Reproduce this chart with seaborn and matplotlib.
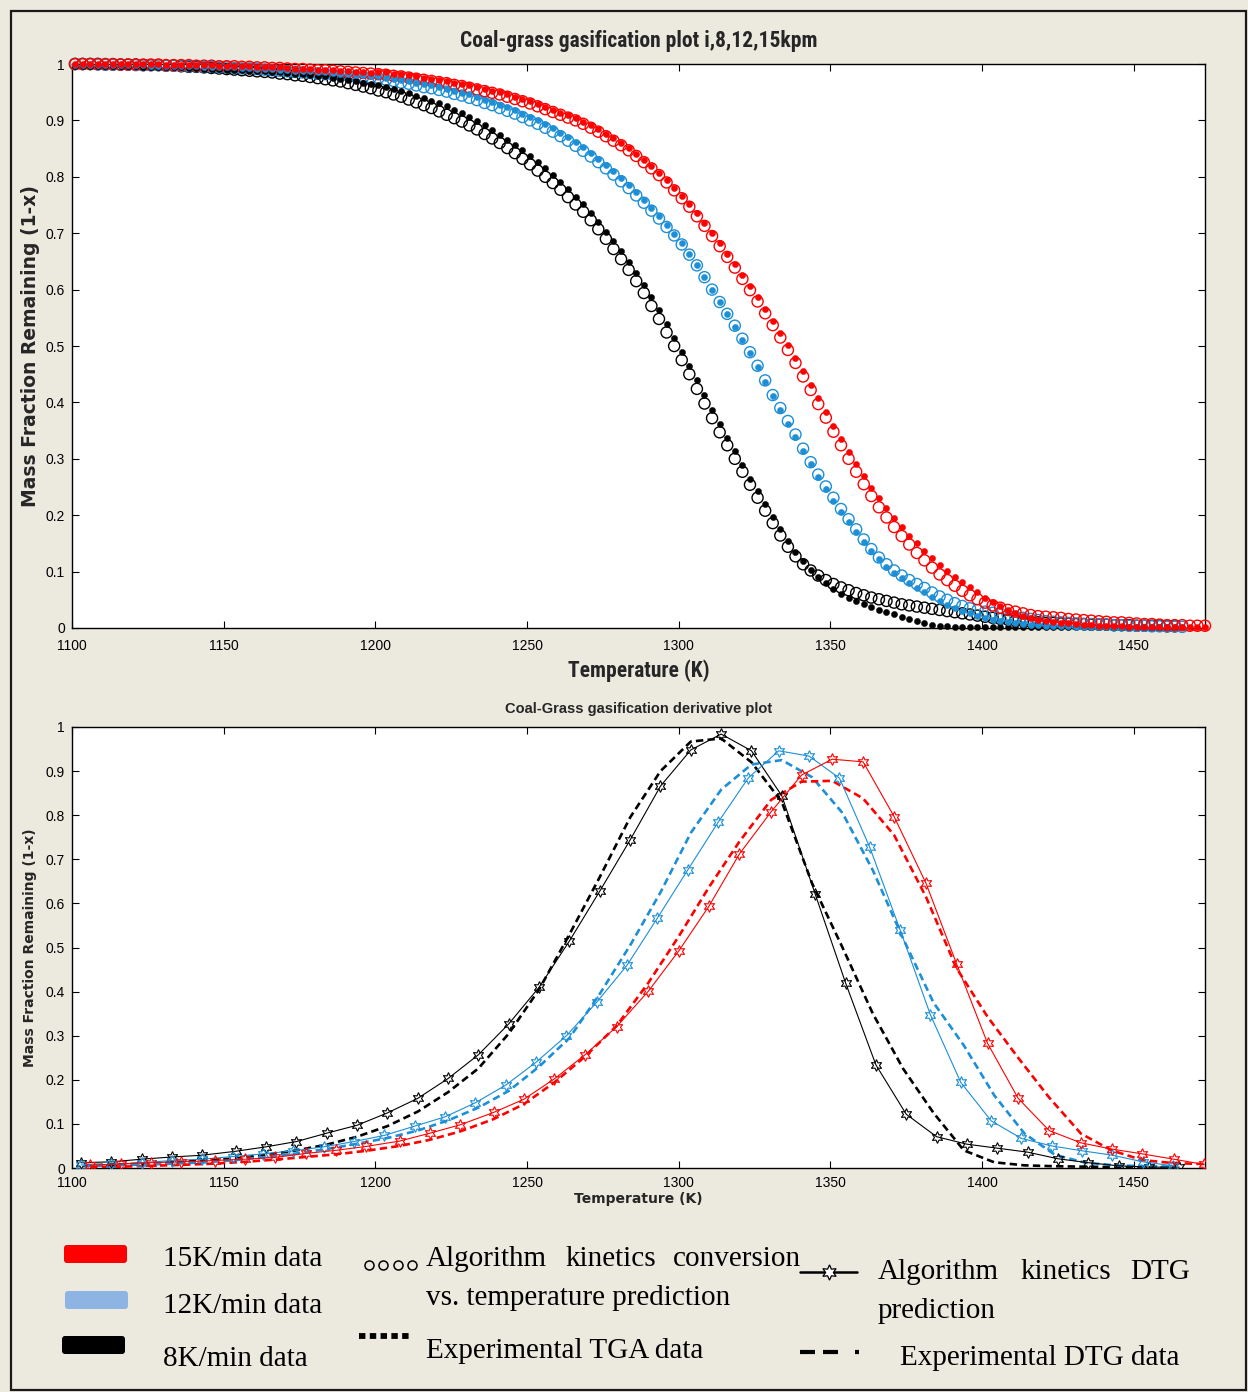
import numpy as np
import pandas as pd
import matplotlib
matplotlib.use("Agg")
import matplotlib.pyplot as plt
import seaborn as sns
from matplotlib import font_manager as fm
from matplotlib.patches import FancyBboxPatch, Rectangle
from matplotlib.ticker import FuncFormatter, MultipleLocator

# ------------------------------------------------------------------
# Conversion curves (1 - x), sampled every 2.5 K starting at 1101 K
# ------------------------------------------------------------------
temp_tga = np.arange(1101.0, 1474.0, 2.5)

alg_8 = [
    1.000, 1.000, 1.000, 1.000, 0.999, 0.999, 0.999, 0.999, 0.999, 0.998,
    0.998, 0.998, 0.997, 0.997, 0.996, 0.995, 0.995, 0.994, 0.993, 0.992,
    0.991, 0.990, 0.989, 0.988, 0.987, 0.986, 0.985, 0.983, 0.982, 0.980,
    0.979, 0.977, 0.975, 0.973, 0.971, 0.969, 0.966, 0.963, 0.960, 0.957,
    0.953, 0.950, 0.946, 0.942, 0.937, 0.932, 0.927, 0.922, 0.916, 0.910,
    0.904, 0.898, 0.891, 0.884, 0.876, 0.868, 0.860, 0.851, 0.842, 0.832,
    0.822, 0.811, 0.800, 0.789, 0.777, 0.764, 0.751, 0.738, 0.723, 0.707,
    0.690, 0.672, 0.654, 0.635, 0.615, 0.594, 0.571, 0.548, 0.524, 0.500,
    0.475, 0.450, 0.424, 0.398, 0.372, 0.347, 0.324, 0.300, 0.277, 0.254,
    0.231, 0.208, 0.186, 0.164, 0.144, 0.127, 0.113, 0.102, 0.093, 0.085,
    0.078, 0.072, 0.067, 0.062, 0.058, 0.054, 0.051, 0.048, 0.045, 0.042,
    0.040, 0.038, 0.036, 0.034, 0.032, 0.030, 0.028, 0.026, 0.024, 0.022,
    0.020, 0.018, 0.016, 0.015, 0.013, 0.012, 0.011, 0.010, 0.009, 0.009,
    0.008, 0.008, 0.007, 0.007, 0.006, 0.006, 0.006, 0.005, 0.005, 0.005,
    0.004, 0.004, 0.004, 0.004, 0.003, 0.003,
]
exp_8 = [
    0.997, 0.997, 0.997, 0.997, 0.996, 0.996, 0.996, 0.996, 0.996, 0.995,
    0.995, 0.995, 0.994, 0.994, 0.994, 0.993, 0.993, 0.992, 0.992, 0.991,
    0.990, 0.990, 0.989, 0.988, 0.988, 0.987, 0.986, 0.985, 0.984, 0.983,
    0.982, 0.981, 0.979, 0.978, 0.976, 0.974, 0.972, 0.970, 0.967, 0.965,
    0.962, 0.959, 0.956, 0.952, 0.948, 0.944, 0.940, 0.935, 0.930, 0.925,
    0.919, 0.913, 0.906, 0.899, 0.891, 0.883, 0.875, 0.866, 0.857, 0.847,
    0.837, 0.826, 0.815, 0.803, 0.791, 0.778, 0.765, 0.751, 0.736, 0.720,
    0.703, 0.686, 0.668, 0.649, 0.629, 0.608, 0.586, 0.563, 0.539, 0.515,
    0.490, 0.465, 0.439, 0.413, 0.387, 0.361, 0.337, 0.313, 0.289, 0.265,
    0.243, 0.220, 0.197, 0.175, 0.154, 0.135, 0.118, 0.103, 0.090, 0.079,
    0.069, 0.061, 0.054, 0.048, 0.042, 0.037, 0.032, 0.028, 0.024, 0.020,
    0.016, 0.012, 0.009, 0.006, 0.004, 0.003, 0.002, 0.002, 0.002, 0.002,
    0.001, 0.001, 0.001, 0.001, 0.001, 0.001, 0.001, 0.001, 0.001, 0.001,
    0.001, 0.001, 0.001, 0.001, 0.001, 0.001, 0.001, 0.001, 0.001, 0.001,
    0.001, 0.001, 0.001, 0.001, 0.001, 0.001,
]
alg_12 = [
    1.000, 1.000, 1.000, 0.999, 0.999, 0.999, 0.999, 0.999, 0.998, 0.998,
    0.998, 0.998, 0.997, 0.997, 0.997, 0.996, 0.996, 0.995, 0.995, 0.994,
    0.994, 0.993, 0.992, 0.992, 0.991, 0.990, 0.989, 0.988, 0.987, 0.986,
    0.985, 0.984, 0.983, 0.982, 0.981, 0.980, 0.979, 0.978, 0.977, 0.976,
    0.975, 0.972, 0.970, 0.967, 0.965, 0.962, 0.959, 0.957, 0.954, 0.951,
    0.947, 0.944, 0.940, 0.936, 0.931, 0.927, 0.922, 0.917, 0.912, 0.906,
    0.900, 0.894, 0.887, 0.880, 0.872, 0.864, 0.855, 0.846, 0.836, 0.826,
    0.815, 0.804, 0.792, 0.780, 0.767, 0.754, 0.740, 0.726, 0.711, 0.696,
    0.680, 0.662, 0.643, 0.622, 0.600, 0.578, 0.557, 0.536, 0.513, 0.489,
    0.465, 0.439, 0.413, 0.390, 0.367, 0.343, 0.318, 0.294, 0.272, 0.251,
    0.231, 0.211, 0.193, 0.175, 0.157, 0.140, 0.125, 0.113, 0.102, 0.093,
    0.085, 0.078, 0.071, 0.063, 0.056, 0.050, 0.044, 0.039, 0.035, 0.032,
    0.029, 0.027, 0.025, 0.022, 0.020, 0.018, 0.016, 0.014, 0.012, 0.011,
    0.010, 0.009, 0.008, 0.007, 0.007, 0.006, 0.006, 0.005, 0.005, 0.004,
    0.004, 0.004, 0.003, 0.003, 0.003, 0.003, 0.002,
]
exp_12 = [
    0.999, 0.999, 0.999, 0.999, 0.999, 0.998, 0.998, 0.998, 0.998, 0.998,
    0.997, 0.997, 0.997, 0.997, 0.996, 0.996, 0.996, 0.995, 0.995, 0.995,
    0.994, 0.994, 0.993, 0.993, 0.992, 0.991, 0.991, 0.990, 0.989, 0.988,
    0.988, 0.987, 0.986, 0.985, 0.984, 0.983, 0.982, 0.981, 0.980, 0.979,
    0.978, 0.976, 0.974, 0.972, 0.970, 0.967, 0.965, 0.962, 0.959, 0.956,
    0.953, 0.949, 0.946, 0.942, 0.937, 0.933, 0.928, 0.923, 0.918, 0.912,
    0.906, 0.900, 0.893, 0.886, 0.878, 0.870, 0.861, 0.852, 0.842, 0.832,
    0.821, 0.810, 0.798, 0.786, 0.773, 0.759, 0.745, 0.730, 0.715, 0.699,
    0.682, 0.663, 0.643, 0.622, 0.600, 0.578, 0.556, 0.534, 0.511, 0.487,
    0.462, 0.437, 0.411, 0.386, 0.362, 0.338, 0.314, 0.291, 0.268, 0.247,
    0.226, 0.206, 0.188, 0.170, 0.153, 0.137, 0.122, 0.109, 0.098, 0.088,
    0.079, 0.071, 0.063, 0.055, 0.048, 0.041, 0.035, 0.030, 0.026, 0.022,
    0.018, 0.015, 0.012, 0.010, 0.008, 0.007, 0.006, 0.005, 0.004, 0.003,
    0.003, 0.003, 0.002, 0.002, 0.002, 0.002, 0.002, 0.001, 0.001, 0.001,
    0.001, 0.001, 0.001, 0.001, 0.001, 0.001, 0.001,
]
alg_15 = [
    1.000, 1.000, 1.000, 1.000, 1.000, 1.000, 0.999, 0.999, 0.999, 0.999,
    0.999, 0.999, 0.998, 0.998, 0.998, 0.998, 0.997, 0.997, 0.997, 0.996,
    0.996, 0.996, 0.995, 0.995, 0.994, 0.994, 0.993, 0.993, 0.992, 0.991,
    0.991, 0.990, 0.989, 0.989, 0.988, 0.987, 0.986, 0.985, 0.984, 0.983,
    0.982, 0.981, 0.979, 0.978, 0.976, 0.974, 0.972, 0.970, 0.968, 0.966,
    0.963, 0.961, 0.958, 0.955, 0.952, 0.949, 0.946, 0.942, 0.938, 0.934,
    0.930, 0.925, 0.920, 0.915, 0.910, 0.905, 0.900, 0.894, 0.887, 0.880,
    0.872, 0.864, 0.856, 0.847, 0.837, 0.826, 0.815, 0.803, 0.790, 0.776,
    0.762, 0.747, 0.730, 0.713, 0.695, 0.677, 0.658, 0.639, 0.619, 0.599,
    0.579, 0.558, 0.537, 0.515, 0.493, 0.470, 0.446, 0.422, 0.397, 0.373,
    0.348, 0.324, 0.300, 0.277, 0.255, 0.234, 0.214, 0.196, 0.179, 0.163,
    0.148, 0.133, 0.120, 0.107, 0.095, 0.085, 0.075, 0.066, 0.058, 0.051,
    0.045, 0.040, 0.036, 0.032, 0.029, 0.026, 0.023, 0.021, 0.020, 0.019,
    0.018, 0.016, 0.015, 0.014, 0.013, 0.012, 0.011, 0.010, 0.010, 0.009,
    0.008, 0.007, 0.007, 0.006, 0.005, 0.005, 0.005, 0.004, 0.004, 0.004,
]
exp_15 = [
    1.000, 1.000, 1.000, 1.000, 1.000, 1.000, 1.000, 1.000, 1.000, 1.000,
    1.000, 1.000, 0.999, 0.999, 0.999, 0.999, 0.998, 0.998, 0.998, 0.997,
    0.997, 0.997, 0.996, 0.996, 0.995, 0.995, 0.994, 0.994, 0.993, 0.992,
    0.992, 0.991, 0.990, 0.990, 0.989, 0.988, 0.987, 0.986, 0.985, 0.984,
    0.986, 0.985, 0.983, 0.982, 0.980, 0.978, 0.976, 0.974, 0.972, 0.970,
    0.967, 0.965, 0.962, 0.959, 0.956, 0.953, 0.950, 0.946, 0.942, 0.938,
    0.934, 0.929, 0.924, 0.919, 0.914, 0.909, 0.904, 0.898, 0.891, 0.884,
    0.876, 0.868, 0.860, 0.851, 0.841, 0.830, 0.819, 0.807, 0.794, 0.780,
    0.766, 0.751, 0.735, 0.718, 0.700, 0.682, 0.664, 0.645, 0.626, 0.606,
    0.586, 0.566, 0.545, 0.523, 0.501, 0.478, 0.455, 0.431, 0.407, 0.383,
    0.359, 0.335, 0.312, 0.290, 0.269, 0.249, 0.230, 0.212, 0.195, 0.179,
    0.164, 0.150, 0.137, 0.124, 0.112, 0.101, 0.091, 0.081, 0.072, 0.063,
    0.054, 0.046, 0.039, 0.032, 0.027, 0.022, 0.018, 0.015, 0.012, 0.010,
    0.009, 0.008, 0.007, 0.006, 0.005, 0.004, 0.004, 0.003, 0.003, 0.002,
    0.002, 0.002, 0.002, 0.001, 0.001, 0.001, 0.001, 0.001, 0.001, 0.001,
]

# ------------------------------------------------------------------
# Derivative (DTG) curves
# ------------------------------------------------------------------
temp_dtg_8 = [1103, 1113, 1123, 1133, 1143, 1154, 1164, 1174, 1184, 1194,
              1204, 1214, 1224, 1234, 1244, 1254, 1264, 1274, 1284, 1294,
              1304, 1314, 1324, 1334, 1345, 1355, 1365, 1375, 1385, 1395,
              1405, 1415, 1425, 1435, 1445, 1455, 1465]
dtg_alg_8 = [0.012, 0.014, 0.020, 0.025, 0.029, 0.038, 0.048, 0.060, 0.079, 0.097,
             0.125, 0.158, 0.203, 0.257, 0.327, 0.410, 0.515, 0.628, 0.744, 0.866,
             0.948, 0.984, 0.946, 0.844, 0.621, 0.420, 0.234, 0.122, 0.071, 0.054,
             0.045, 0.036, 0.021, 0.012, 0.005, 0.002, 0.002]

temp_dtg_12 = [1103, 1113, 1123, 1133, 1143, 1153, 1163, 1173, 1183, 1193,
               1203, 1213, 1223, 1233, 1243, 1253, 1263, 1273, 1283, 1293,
               1303, 1313, 1323, 1333, 1343, 1353, 1363, 1373, 1383, 1393,
               1403, 1413, 1423, 1433, 1443, 1453, 1463]
dtg_alg_12 = [0.007, 0.008, 0.012, 0.017, 0.020, 0.026, 0.032, 0.039, 0.048, 0.060,
              0.074, 0.095, 0.116, 0.148, 0.188, 0.240, 0.300, 0.376, 0.460, 0.567,
              0.676, 0.784, 0.885, 0.946, 0.934, 0.884, 0.727, 0.540, 0.347, 0.194,
              0.107, 0.067, 0.050, 0.039, 0.029, 0.014, 0.005]

temp_dtg_15 = [1106, 1116, 1126, 1136, 1147, 1157, 1167, 1177, 1187, 1197,
               1208, 1218, 1228, 1239, 1249, 1259, 1269, 1279.5, 1290, 1300,
               1310, 1320, 1330.5, 1340.5, 1350.6, 1360.8, 1371, 1381.5, 1391.6, 1401.8,
               1411.9, 1422.1, 1432.6, 1442.7, 1452.8, 1463.2, 1473.2]
dtg_alg_15 = [0.006, 0.009, 0.012, 0.014, 0.017, 0.020, 0.024, 0.033, 0.040, 0.049,
              0.061, 0.079, 0.098, 0.126, 0.156, 0.202, 0.256, 0.320, 0.401, 0.492,
              0.594, 0.712, 0.808, 0.891, 0.927, 0.921, 0.797, 0.646, 0.463, 0.283,
              0.158, 0.085, 0.057, 0.043, 0.032, 0.020, 0.008]
dtg_exp_15 = [0.002, 0.003, 0.005, 0.007, 0.010, 0.014, 0.019, 0.025, 0.031, 0.039,
              0.050, 0.064, 0.083, 0.111, 0.145, 0.194, 0.252, 0.322, 0.420, 0.525,
              0.637, 0.740, 0.835, 0.876, 0.878, 0.838, 0.755, 0.615, 0.453, 0.343,
              0.250, 0.160, 0.078, 0.040, 0.018, 0.011, 0.009]

temp_exp_dtg = [1104, 1114, 1124, 1134, 1144, 1154, 1164, 1174, 1184, 1194,
                1204, 1214, 1224, 1234, 1244, 1254, 1264, 1274, 1284, 1294,
                1304, 1314, 1324, 1334, 1344, 1354, 1364, 1374, 1384, 1394,
                1404, 1414, 1424, 1434, 1444, 1454, 1464]
dtg_exp_8 = [0.006, 0.008, 0.010, 0.013, 0.017, 0.022, 0.030, 0.040, 0.053, 0.071,
             0.095, 0.128, 0.172, 0.226, 0.305, 0.405, 0.530, 0.660, 0.795, 0.900,
             0.967, 0.974, 0.920, 0.830, 0.645, 0.500, 0.350, 0.225, 0.125, 0.040,
             0.013, 0.006, 0.004, 0.003, 0.002, 0.001, 0.001]
dtg_exp_12 = [0.005, 0.006, 0.008, 0.010, 0.013, 0.018, 0.025, 0.033, 0.043, 0.055,
              0.068, 0.085, 0.108, 0.137, 0.175, 0.230, 0.295, 0.395, 0.505, 0.625,
              0.760, 0.858, 0.915, 0.925, 0.886, 0.805, 0.675, 0.520, 0.375, 0.278,
              0.165, 0.078, 0.030, 0.012, 0.006, 0.004, 0.003]

rate_labels = ["15K/min data", "12K/min data", "8K/min data"]
x_ticks = [1100, 1150, 1200, 1250, 1300, 1350, 1400, 1450]

# ------------------------------------------------------------------
# Styling
# ------------------------------------------------------------------
sns.set_style("ticks")

def pick_family(candidates):
    for name in candidates:
        try:
            fm.findfont(fm.FontProperties(family=name), fallback_to_default=False)
            return name
        except Exception:
            continue
    return "DejaVu Sans"

SANS = pick_family(["Liberation Sans", "Arial", "DejaVu Sans"])
NARROW = pick_family(["Liberation Sans Narrow", "Arial Narrow", "Roboto Condensed", SANS])
SERIF = pick_family(["Liberation Serif", "Times New Roman", "DejaVu Serif"])
WIDE = "DejaVu Sans"
plt.rcParams["font.family"] = [SANS, "DejaVu Sans"]

BG = "#ece9df"
RED = "#ff0000"
BLUE = "#1c8fd6"
BLACK = "#000000"
LIGHT_BLUE = "#8db4e2"
colors = {"15": RED, "12": BLUE, "8": BLACK}

W, H = 1248, 1392
fig = plt.figure(figsize=(W / 100, H / 100), dpi=100, facecolor=BG)

ax1 = fig.add_axes([72 / W, 1 - 628 / H, (1205 - 72) / W, (628 - 64) / H])
ax2 = fig.add_axes([72 / W, 1 - 1168 / H, (1205 - 72) / W, (1168 - 727) / H])

# ------------------------------------------------------------------
# Top panel: conversion vs temperature
# ------------------------------------------------------------------
tga_series = [
    ("8", alg_8, exp_8),
    ("12", alg_12, exp_12),
    ("15", alg_15, exp_15),
]
for rate, alg, exp in tga_series:
    col = colors[rate]
    df_alg = pd.DataFrame({"T": temp_tga[:len(alg)], "v": alg})
    df_exp = pd.DataFrame({"T": temp_tga[:len(exp)], "v": exp})
    sns.scatterplot(data=df_alg, x="T", y="v", ax=ax1, marker="o", s=64,
                    color=col, facecolors="none", edgecolor=col, linewidth=1.0,
                    clip_on=False, zorder=3, legend=False)
    sns.scatterplot(data=df_exp, x="T", y="v", ax=ax1, marker="o", s=20,
                    color=col, edgecolor=col, linewidth=0.3,
                    clip_on=False, zorder=4, legend=False)

# ------------------------------------------------------------------
# Bottom panel: derivative curves
# ------------------------------------------------------------------
dtg_series = [
    ("8", temp_dtg_8, dtg_alg_8, temp_exp_dtg, dtg_exp_8),
    ("12", temp_dtg_12, dtg_alg_12, temp_exp_dtg, dtg_exp_12),
    ("15", temp_dtg_15, dtg_alg_15, temp_dtg_15, dtg_exp_15),
]
for rate, t_alg, v_alg, t_exp, v_exp in dtg_series:
    col = colors[rate]
    sns.lineplot(x=t_exp, y=v_exp, ax=ax2, color=col, linewidth=1.9,
                 linestyle=(0, (2.8, 1.6)), sort=False, estimator=None, zorder=3)
    sns.lineplot(x=t_alg, y=v_alg, ax=ax2, color=col, linewidth=0.8,
                 marker=(6, 1, 0), markersize=8.5, markerfacecolor="none",
                 markeredgecolor=col, markeredgewidth=0.8,
                 sort=False, estimator=None, zorder=4)

# ------------------------------------------------------------------
# Axes cosmetics
# ------------------------------------------------------------------
fmt = FuncFormatter(lambda v, p: f"{v:g}")
for ax in (ax1, ax2):
    ax.set_facecolor("white")
    ax.set_xlim(1100, 1473.5)
    ax.set_ylim(0, 1)
    ax.set_xticks(x_ticks)
    ax.yaxis.set_major_locator(MultipleLocator(0.1))
    ax.yaxis.set_major_formatter(fmt)
    for sp in ax.spines.values():
        sp.set_visible(True)
        sp.set_color("black")
        sp.set_linewidth(1.0)
    ax.tick_params(direction="in", length=5, width=0.8, top=True, right=True,
                   labelsize=10, pad=5, colors="black")
    for lab in ax.get_xticklabels() + ax.get_yticklabels():
        lab.set_family([SANS, "DejaVu Sans"])
ax1.tick_params(axis="x", pad=8)
ax2.tick_params(axis="x", pad=6)

ax1.set_title("Coal-grass gasification plot i,8,12,15kpm", fontsize=15.5,
              fontweight="bold", family=[NARROW, "DejaVu Sans"],
              y=1 + 23 / 564, pad=0, va="center")
ax1.set_xlabel("Temperature (K)", fontsize=15.5, fontweight="bold",
               family=[NARROW, "DejaVu Sans"])
ax1.xaxis.set_label_coords(0.5, -(671 - 628) / 564)
ax1.xaxis.label.set_va("center")
ax1.set_ylabel("Mass Fraction Remaining (1-x)", fontsize=13.5, fontweight="bold",
               family=[WIDE])
ax1.yaxis.set_label_coords((30 - 72) / 1133, 0.5)
ax1.yaxis.label.set_va("center")

ax2.set_title("Coal-Grass gasification derivative plot", fontsize=10.5,
              fontweight="bold", family=[SANS, "DejaVu Sans"],
              y=1 + 18 / 441, pad=0, va="center")
ax2.set_xlabel("Temperature (K)", fontsize=10, fontweight="bold", family=[WIDE])
ax2.xaxis.set_label_coords(0.5, -(1199 - 1168) / 441)
ax2.xaxis.label.set_va("center")
ax2.set_ylabel("Mass Fraction Remaining (1-x)", fontsize=10, fontweight="bold",
               family=[WIDE])
ax2.yaxis.set_label_coords((30 - 72) / 1133, 0.5)
ax2.yaxis.label.set_va("center")

# ------------------------------------------------------------------
# Hand-made key and outer frame (pixel-space overlay)
# ------------------------------------------------------------------
ov = fig.add_axes([0, 0, 1, 1], facecolor="none")
ov.set_xlim(0, W)
ov.set_ylim(H, 0)
ov.axis("off")

ov.add_patch(Rectangle((11, 11), W - 13, H - 13, fill=False,
                       edgecolor="#1a1a1a", linewidth=1.6))

swatches = [(RED, 64, 1245), (LIGHT_BLUE, 65, 1291), (BLACK, 62, 1336)]
for col, x0, y0 in swatches:
    ov.add_patch(FancyBboxPatch((x0 + 3, y0 + 3), 57, 12,
                                boxstyle="round,pad=3", facecolor=col,
                                edgecolor="none"))

tkw = dict(fontsize=21, family=[SERIF], va="baseline", color="black")
ov.text(163, 1266, rate_labels[0], **tkw)
ov.text(163, 1313, rate_labels[1], **tkw)
ov.text(163, 1366, rate_labels[2], **tkw)

# open-circle sample
ov.plot([369, 383, 398, 412], [1265] * 4, linestyle="none", marker="o",
        markersize=6.5, markerfacecolor="none", markeredgecolor="black",
        markeredgewidth=1.1)
ov.text(426, 1266, "Algorithm", **tkw)
ov.text(565, 1266, "kinetics", **tkw)
ov.text(673, 1266, "conversion", **tkw)
ov.text(426, 1305, "vs. temperature prediction", **tkw)

# thick dotted sample
ov.plot([359, 411], [1336, 1336], color="black", linewidth=4.2,
        linestyle=(0, (1.1, 0.75)), solid_capstyle="butt",
        dash_capstyle="butt")
ov.text(426, 1358, "Experimental TGA data", **tkw)

# star-line sample
ov.plot([800, 857], [1272, 1272], color="black", linewidth=1.8)
ov.plot([829], [1272], marker=(6, 1, 0), markersize=11, markerfacecolor="white",
        markeredgecolor="black", markeredgewidth=0.9)
ov.text(878, 1279, "Algorithm", **tkw)
ov.text(1020, 1279, "kinetics", **tkw)
ov.text(1130, 1279, "DTG", **tkw)
ov.text(878, 1318, "prediction", **tkw)

# dashed sample
ov.plot([800, 815], [1352, 1352], color="black", linewidth=3.0, solid_capstyle="butt")
ov.plot([823, 838], [1352, 1352], color="black", linewidth=3.0, solid_capstyle="butt")
ov.plot([855, 859], [1352, 1352], color="black", linewidth=3.0, solid_capstyle="butt")
ov.text(900, 1365, "Experimental DTG data", **tkw)

fig.savefig("out.png", dpi=100, facecolor=BG)
